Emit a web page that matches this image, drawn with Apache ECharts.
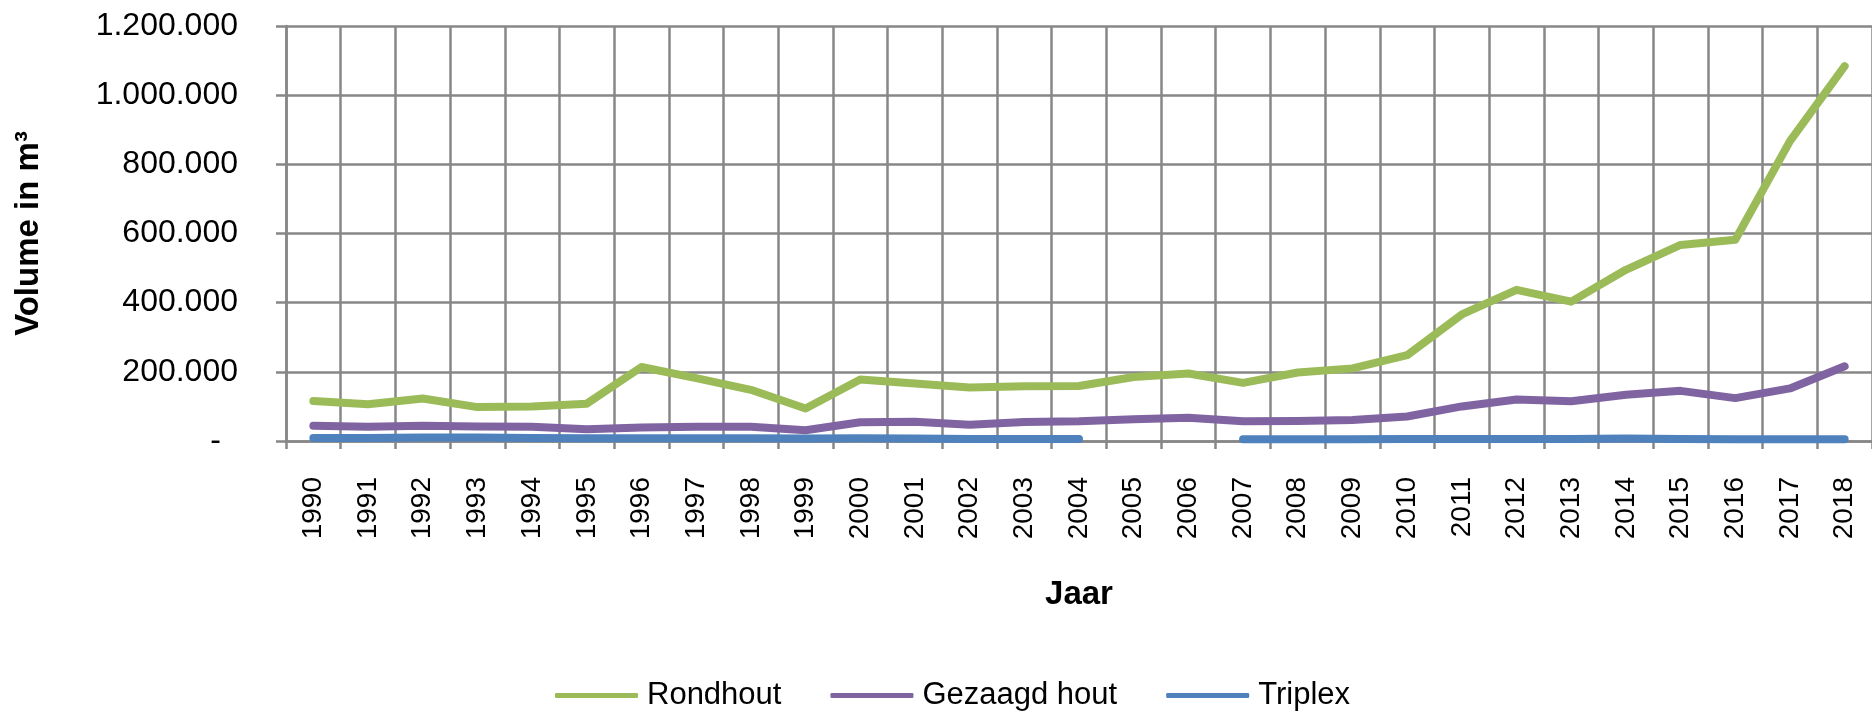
<!DOCTYPE html>
<html>
<head>
<meta charset="utf-8">
<script src="https://cdn.jsdelivr.net/npm/echarts@6/dist/echarts.min.js"></script>
<style>
html,body{margin:0;padding:0;background:#fff;}
#c{width:1872px;height:715px;}
</style>
</head>
<body>
<div id="c"></div>
<script>
const years = ['1990','1991','1992','1993','1994','1995','1996','1997','1998','1999','2000','2001','2002','2003','2004','2005','2006','2007','2008','2009','2010','2011','2012','2013','2014','2015','2016','2017','2018'];
const rondhout = [116000,106000,123000,98000,100000,108000,214000,182000,148000,94000,178000,166000,155000,158000,159000,185000,195000,168000,198000,210000,248000,366000,437000,403000,495000,567000,582000,867000,1084000];
const gezaagdHout = [44000,41000,44000,42000,41000,34000,39000,41000,41000,31000,54000,56000,47000,55000,57000,63000,67000,57000,58000,61000,71000,100000,120000,115000,134000,145000,124000,152000,216000];
const triplex = [9000,9000,10000,10000,9000,8000,8000,8000,8000,7000,8000,7000,6000,6000,6000,null,null,5000,5000,5000,6000,6000,6000,6000,7000,6000,5000,5000,5000];
const seriesNames = ['Rondhout','Gezaagd hout','Triplex'];
const colors = ['#9BBB59','#8064A2','#4F81BD'];

const FONT = '"Liberation Sans", Arial, sans-serif';
const GRID = '#878787';

function fmt(v){
  if (v === 0) return '{z|-}';
  return String(v).replace(/\B(?=(\d{3})+(?!\d))/g, '.');
}

const chart = echarts.init(document.getElementById('c'));
chart.setOption({
  animation: false,
  backgroundColor: '#fff',
  color: colors,
  textStyle: { fontFamily: FONT },
  grid: { left: 286, top: 26, width: 1597, height: 415, containLabel: false },
  legend: {
    left: 550, top: 675,
    itemWidth: 83, itemHeight: 5, itemGap: 49,
    icon: 'roundRect',
    data: seriesNames,
    textStyle: { fontFamily: FONT, fontSize: 31, color: '#000', padding: [0,0,0,4] }
  },
  xAxis: {
    type: 'category',
    data: years,
    boundaryGap: true,
    name: 'Jaar',
    nameLocation: 'middle',
    nameGap: 137,
    nameTextStyle: { fontFamily: FONT, fontSize: 33, fontWeight: 'bold', color: '#000' },
    axisLine: { show: true, lineStyle: { color: GRID, width: 2.5 } },
    axisTick: { show: true, interval: 0, length: 8, lineStyle: { color: GRID, width: 2.5 } },
    splitLine: { show: true, interval: 0, lineStyle: { color: GRID, width: 2.5 } },
    axisLabel: { interval: 0, rotate: 90, margin: 36, fontFamily: FONT, fontSize: 28, color: '#000' }
  },
  yAxis: {
    type: 'value',
    min: 0, max: 1200000, interval: 200000,
    name: 'Volume in m³',
    nameLocation: 'middle',
    nameRotate: 90,
    nameGap: 241,
    nameTextStyle: { fontFamily: FONT, fontSize: 33, fontWeight: 'bold', color: '#000' },
    axisLine: { show: true, lineStyle: { color: GRID, width: 2.5 } },
    axisTick: { show: true, length: 10, lineStyle: { color: GRID, width: 2.5 } },
    splitLine: { show: true, lineStyle: { color: GRID, width: 2.5 } },
    axisLabel: {
      margin: 48, fontFamily: FONT, fontSize: 32, color: '#000',
      formatter: fmt,
      rich: { z: { fontFamily: FONT, fontSize: 32, color: '#000', padding: [0,17,0,0] } }
    }
  },
  series: [
    { name: seriesNames[0], type: 'line', data: rondhout, symbol: 'none', connectNulls: false,
      lineStyle: { width: 8, color: colors[0], cap: 'round', join: 'round' }, itemStyle: { color: colors[0] } },
    { name: seriesNames[1], type: 'line', data: gezaagdHout, symbol: 'none', connectNulls: false,
      lineStyle: { width: 8, color: colors[1], cap: 'round', join: 'round' }, itemStyle: { color: colors[1] } },
    { name: seriesNames[2], type: 'line', data: triplex, symbol: 'none', connectNulls: false,
      lineStyle: { width: 8, color: colors[2], cap: 'round', join: 'round' }, itemStyle: { color: colors[2] } }
  ]
});
</script>
</body>
</html>
